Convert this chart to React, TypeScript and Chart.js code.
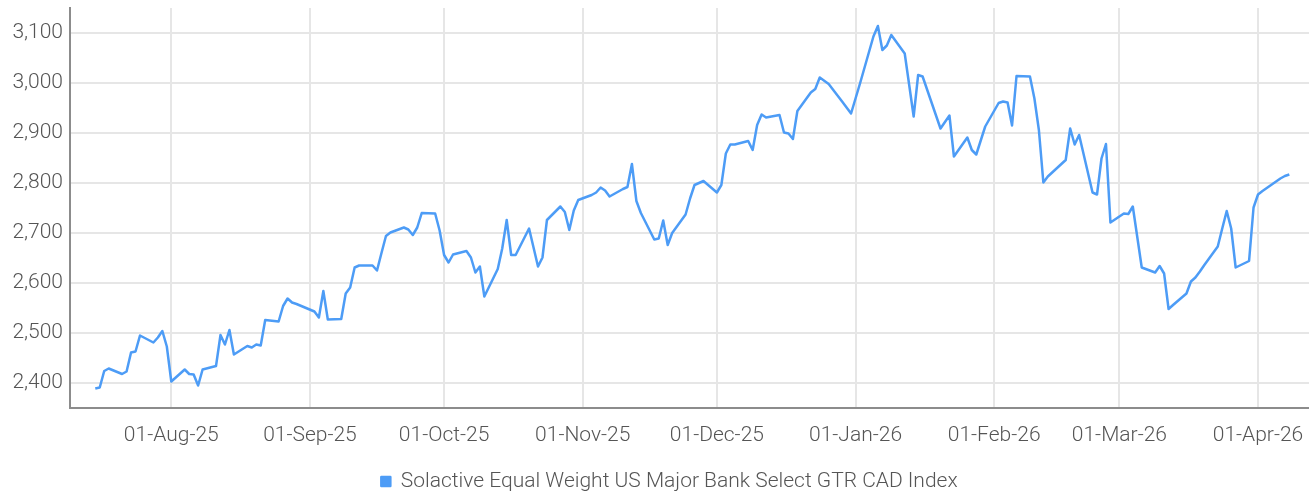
import React, { useEffect, useRef } from "react";
import { Chart, registerables } from "chart.js";

Chart.register(...registerables);

const SERIES_LABEL = "Solactive Equal Weight US Major Bank Select GTR CAD Index";

const DATES: string[] = [
  "2025-07-15", "2025-07-16", "2025-07-17", "2025-07-18", "2025-07-21", "2025-07-22", "2025-07-23", "2025-07-24", "2025-07-25",
  "2025-07-28", "2025-07-29", "2025-07-30", "2025-07-31", "2025-08-01",
  "2025-08-04", "2025-08-05", "2025-08-06", "2025-08-07", "2025-08-08",
  "2025-08-11", "2025-08-12", "2025-08-13", "2025-08-14", "2025-08-15",
  "2025-08-18", "2025-08-19", "2025-08-20", "2025-08-21", "2025-08-22",
  "2025-08-25", "2025-08-26", "2025-08-27", "2025-08-28", "2025-08-29",
  "2025-09-02", "2025-09-03", "2025-09-04", "2025-09-05",
  "2025-09-08", "2025-09-09", "2025-09-10", "2025-09-11", "2025-09-12",
  "2025-09-15", "2025-09-16", "2025-09-17", "2025-09-18", "2025-09-19",
  "2025-09-22", "2025-09-23", "2025-09-24", "2025-09-25", "2025-09-26",
  "2025-09-29", "2025-09-30", "2025-10-01", "2025-10-02", "2025-10-03",
  "2025-10-06", "2025-10-07", "2025-10-08", "2025-10-09", "2025-10-10",
  "2025-10-13", "2025-10-14", "2025-10-15", "2025-10-16", "2025-10-17",
  "2025-10-20", "2025-10-21", "2025-10-22", "2025-10-23", "2025-10-24",
  "2025-10-27", "2025-10-28", "2025-10-29", "2025-10-30", "2025-10-31",
  "2025-11-03", "2025-11-04", "2025-11-05", "2025-11-06", "2025-11-07",
  "2025-11-10", "2025-11-11", "2025-11-12", "2025-11-13", "2025-11-14",
  "2025-11-17", "2025-11-18", "2025-11-19", "2025-11-20", "2025-11-21",
  "2025-11-24", "2025-11-25", "2025-11-26", "2025-11-28",
  "2025-12-01", "2025-12-02", "2025-12-03", "2025-12-04", "2025-12-05",
  "2025-12-08", "2025-12-09", "2025-12-10", "2025-12-11", "2025-12-12",
  "2025-12-15", "2025-12-16", "2025-12-17", "2025-12-18", "2025-12-19",
  "2025-12-22", "2025-12-23", "2025-12-24", "2025-12-26",
  "2025-12-29", "2025-12-30", "2025-12-31", "2026-01-02",
  "2026-01-05", "2026-01-06", "2026-01-07", "2026-01-08", "2026-01-09",
  "2026-01-12", "2026-01-13", "2026-01-14", "2026-01-15", "2026-01-16",
  "2026-01-20", "2026-01-21", "2026-01-22", "2026-01-23",
  "2026-01-26", "2026-01-27", "2026-01-28", "2026-01-29", "2026-01-30",
  "2026-02-02", "2026-02-03", "2026-02-04", "2026-02-05", "2026-02-06",
  "2026-02-09", "2026-02-10", "2026-02-11", "2026-02-12", "2026-02-13",
  "2026-02-17", "2026-02-18", "2026-02-19", "2026-02-20",
  "2026-02-23", "2026-02-24", "2026-02-25", "2026-02-26", "2026-02-27",
  "2026-03-02", "2026-03-03", "2026-03-04", "2026-03-05", "2026-03-06",
  "2026-03-09", "2026-03-10", "2026-03-11", "2026-03-12", "2026-03-13",
  "2026-03-16", "2026-03-17", "2026-03-18", "2026-03-19", "2026-03-20",
  "2026-03-23", "2026-03-24", "2026-03-25", "2026-03-26", "2026-03-27",
  "2026-03-30", "2026-03-31", "2026-04-01", "2026-04-02",
  "2026-04-06", "2026-04-07", "2026-04-08",
];

const VALUES: number[] = [
  2389, 2391, 2424, 2429, 2418, 2423, 2461, 2463, 2495,
  2481, 2491, 2504, 2473, 2403,
  2427, 2418, 2417, 2395, 2427,
  2434, 2496, 2477, 2506, 2457,
  2474, 2471, 2477, 2475, 2526,
  2523, 2554, 2569, 2561, 2558,
  2543, 2531, 2584, 2527,
  2528, 2579, 2591, 2631, 2635,
  2635, 2625, 2660, 2694, 2701,
  2711, 2707, 2696, 2711, 2740,
  2739, 2705, 2656, 2641, 2657,
  2664, 2651, 2621, 2633, 2573,
  2628, 2669, 2726, 2656, 2656,
  2709, 2671, 2633, 2651, 2726,
  2753, 2742, 2706, 2745, 2766,
  2776, 2781, 2791, 2785, 2773,
  2788, 2792, 2838, 2764, 2740,
  2687, 2689, 2725, 2676, 2700,
  2737, 2769, 2796, 2804,
  2781, 2796, 2859, 2877, 2877,
  2884, 2866, 2916, 2937, 2931,
  2936, 2901, 2899, 2888, 2944,
  2981, 2988, 3011, 2998,
  2963, 2951, 2939, 2999,
  3093, 3114, 3066, 3075, 3096,
  3059, 2996, 2933, 3016, 3013,
  2909, 2922, 2935, 2853,
  2891, 2866, 2857, 2885, 2913,
  2960, 2963, 2961, 2915, 3014,
  3013, 2969, 2906, 2801, 2813,
  2846, 2909, 2877, 2896,
  2781, 2777, 2849, 2878, 2721,
  2739, 2738, 2753, 2692, 2631,
  2621, 2634, 2619, 2548, 2556,
  2579, 2603, 2611, 2623, 2636,
  2673, 2709, 2744, 2709, 2631,
  2644, 2751, 2777, 2784,
  2809, 2814, 2817,
];

const Y_TICKS: number[] = [2400, 2500, 2600, 2700, 2800, 2900, 3000, 3100];

const X_TICK_DATES: string[] = [
  "2025-08-01", "2025-09-01", "2025-10-01", "2025-11-01", "2025-12-01",
  "2026-01-01", "2026-02-01", "2026-03-01", "2026-04-01",
];
const X_TICK_LABELS: string[] = [
  "01-Aug-25", "01-Sep-25", "01-Oct-25", "01-Nov-25", "01-Dec-25",
  "01-Jan-26", "01-Feb-26", "01-Mar-26", "01-Apr-26",
];

const dayNum = (s: string): number => {
  const [y, m, d] = s.split("-").map(Number);
  return Date.UTC(y, m - 1, d) / 86400000;
};

const FONT = "'Roboto', sans-serif";
const FONT_SIZE = 21;
const LINE_COLOR = "#4d9cf6";

export default function App() {
  const ref = useRef<HTMLCanvasElement | null>(null);

  useEffect(() => {
    document.body.style.margin = "0";
    const canvas = ref.current;
    if (!canvas) return;
    const origin = dayNum("2025-08-01");
    const tickMap = new Map<number, string>();
    X_TICK_DATES.forEach((d, i) => tickMap.set(dayNum(d), X_TICK_LABELS[i]));

    const legendShift = {
      id: "legendShift",
      afterLayout(chart: any) {
        const lg = chart.legend;
        if (!lg) return;
        const dx = 15;
        const dy = 9;
        lg.left += dx;
        lg.right += dx;
        lg.top += dy;
        lg.bottom += dy;
      },
    };

    const chart = new Chart(canvas, {
      type: "line",
      data: {
        datasets: [
          {
            label: SERIES_LABEL,
            data: DATES.map((d, i) => ({ x: dayNum(d), y: VALUES[i] })),
            borderColor: LINE_COLOR,
            backgroundColor: LINE_COLOR,
            borderWidth: 2.5,
            pointRadius: 0,
            tension: 0,
            borderJoinStyle: "round",
          },
        ],
      },
      options: {
        animation: false,
        responsive: false,
        devicePixelRatio: 1,
        layout: { padding: { top: 8, right: 0, left: 0, bottom: 0 } },
        plugins: {
          legend: {
            position: "bottom",
            labels: {
              boxWidth: 9,
              boxHeight: 9,
              padding: 0,
              color: "#555",
              font: { family: FONT, size: FONT_SIZE, weight: "300" },
            },
          },
          tooltip: { enabled: false },
        },
        scales: {
          x: {
            type: "linear",
            min: origin - 22.65,
            max: origin + 254.4,
            afterBuildTicks: (scale: any) => {
              scale.ticks = X_TICK_DATES.map((d) => ({ value: dayNum(d) }));
            },
            afterFit: (scale: any) => {
              scale.height = 54;
              scale.paddingLeft = 0;
              scale.paddingRight = 0;
            },
            ticks: {
              autoSkip: false,
              maxRotation: 0,
              padding: 15,
              color: "#555",
              font: { family: FONT, size: FONT_SIZE, weight: "300" },
              callback: (v: any) => tickMap.get(Number(v)) ?? "",
            },
            grid: { color: "#e6e6e6", lineWidth: 2, drawTicks: false },
            border: { color: "#8c8c8c", width: 2 },
          },
          y: {
            type: "linear",
            min: 2350,
            max: 3150,
            afterBuildTicks: (scale: any) => {
              scale.ticks = Y_TICKS.map((v) => ({ value: v }));
            },
            afterFit: (scale: any) => {
              scale.width = 70;
              scale.paddingTop = 0;
              scale.paddingBottom = 0;
            },
            ticks: {
              padding: 7,
              color: "#555",
              font: { family: FONT, size: FONT_SIZE, weight: "300" },
              callback: (v: any) => Number(v).toLocaleString("en-US"),
            },
            grid: { color: "#e6e6e6", lineWidth: 2, drawTicks: false },
            border: { color: "#8c8c8c", width: 2 },
          },
        },
      },
      plugins: [legendShift],
    } as any);

    return () => chart.destroy();
  }, []);

  return (
    <div style={{ width: 1309, height: 493 }}>
      <canvas ref={ref} width={1309} height={493} />
    </div>
  );
}
